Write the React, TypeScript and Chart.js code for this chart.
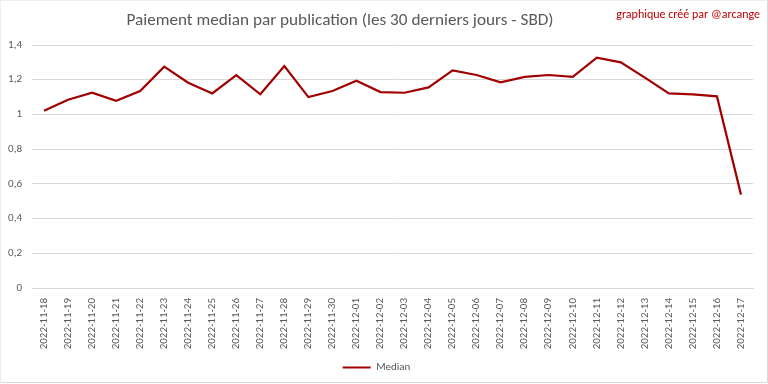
import React, { useEffect, useRef } from "react";
import { Chart, registerables } from "chart.js";

Chart.register(...registerables);

const dateLabels = [
  "2022-11-18", "2022-11-19", "2022-11-20", "2022-11-21", "2022-11-22",
  "2022-11-23", "2022-11-24", "2022-11-25", "2022-11-26", "2022-11-27",
  "2022-11-28", "2022-11-29", "2022-11-30", "2022-12-01", "2022-12-02",
  "2022-12-03", "2022-12-04", "2022-12-05", "2022-12-06", "2022-12-07",
  "2022-12-08", "2022-12-09", "2022-12-10", "2022-12-11", "2022-12-12",
  "2022-12-13", "2022-12-14", "2022-12-15", "2022-12-16", "2022-12-17",
];

const medianValues = [
  1.021, 1.085, 1.125, 1.079, 1.135, 1.275, 1.183, 1.121, 1.227, 1.116,
  1.279, 1.1, 1.135, 1.194, 1.129, 1.125, 1.156, 1.254, 1.227, 1.185,
  1.216, 1.227, 1.216, 1.327, 1.3, 1.212, 1.121, 1.116, 1.104, 0.538,
];

const seriesName = "Median";
const titleText = "Paiement median par publication (les 30 derniers jours - SBD)";
const creditText = "graphique créé par @arcange";

const FONT = "Carlito, Calibri, 'Liberation Sans Narrow', Lato, sans-serif";
const TEXT_COLOR = "#595959";
const LINE_COLOR = "#a00000";
const GRID_COLOR = "#d9d9d9";

export default function App() {
  const canvasRef = useRef<HTMLCanvasElement | null>(null);

  useEffect(() => {
    if (!canvasRef.current) return;
    const chart = new Chart(canvasRef.current, {
      type: "line",
      data: {
        labels: dateLabels,
        datasets: [
          {
            label: seriesName,
            data: medianValues,
            borderColor: LINE_COLOR,
            backgroundColor: LINE_COLOR,
            borderWidth: 2.2,
            pointRadius: 0,
            pointHoverRadius: 0,
            tension: 0,
            fill: false,
          },
        ],
      },
      options: {
        responsive: false,
        animation: false,
        layout: { padding: { top: 45, left: 0, right: 15, bottom: 1 } },
        plugins: {
          title: { display: false },
          tooltip: { enabled: false },
          legend: {
            display: true,
            position: "bottom",
            labels: {
              boxWidth: 28,
              boxHeight: 2,
              padding: 10,
              color: TEXT_COLOR,
              font: { family: FONT, size: 11 },
              generateLabels: (c: any) =>
                Chart.defaults.plugins.legend.labels.generateLabels(c).map((item: any) => ({
                  ...item,
                  lineWidth: 0,
                })),
            },
          },
        },
        scales: {
          x: {
            offset: true,
            grid: { display: false, drawTicks: false },
            border: { display: true, color: GRID_COLOR, width: 1 },
            ticks: {
              color: TEXT_COLOR,
              font: { family: FONT, size: 11 },
              minRotation: 90,
              maxRotation: 90,
              autoSkip: false,
              padding: 10,
            },
            afterFit: (scale: any) => {
              scale.height = 64;
            },
          },
          y: {
            min: 0,
            max: 1.4,
            grid: { color: GRID_COLOR, drawTicks: false },
            border: { display: false },
            ticks: {
              stepSize: 0.2,
              color: TEXT_COLOR,
              font: { family: FONT, size: 11 },
              padding: 10,
              callback: (v: any) => String(Math.round(Number(v) * 10) / 10).replace(".", ","),
            },
            afterFit: (scale: any) => {
              scale.width = 32;
            },
          },
        },
      },
    });
    return () => chart.destroy();
  }, []);

  return (
    <div
      style={{
        position: "fixed",
        left: 0,
        top: 0,
        width: 768,
        height: 384,
        background: "#ffffff",
        fontFamily: FONT,
      }}
    >
      <canvas ref={canvasRef} width={768} height={384} style={{ position: "absolute", left: 0, top: 0 }} />
      <div
        style={{
          position: "absolute",
          left: 0,
          top: 0,
          width: 766,
          height: 381,
          border: "1px solid #d9d9d9",
          borderLeft: "1px solid #eeeeee",
          borderTop: "1px solid #eeeeee",
          pointerEvents: "none",
        }}
      />
      <div
        style={{
          position: "absolute",
          left: 340,
          top: 9,
          transform: "translateX(-50%)",
          whiteSpace: "nowrap",
          fontSize: 17.2,
          color: TEXT_COLOR,
        }}
      >
        {titleText}
      </div>
      <div
        style={{
          position: "absolute",
          right: 8,
          top: 7,
          whiteSpace: "nowrap",
          fontSize: 12,
          color: "#c00000",
        }}
      >
        {creditText}
      </div>
    </div>
  );
}
